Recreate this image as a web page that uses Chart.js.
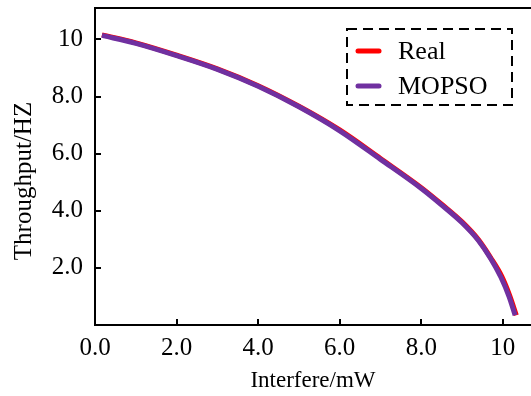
<!DOCTYPE html>
<html>
<head>
<meta charset="utf-8">
<script src="https://cdn.jsdelivr.net/npm/chart.js@4/dist/chart.umd.min.js"></script>
<style>
  html, body { margin: 0; padding: 0; background: #fff; }
  #wrap { width: 531px; height: 396px; }
</style>
</head>
<body>
<div id="wrap"><canvas id="myChart" width="531" height="396"></canvas></div>
<script>
// values
const realX  = [0.17, 1.0, 2.0, 3.0, 4.0, 5.0, 6.0, 7.0, 8.0, 8.5, 9.0, 9.4, 9.7, 9.97, 10.17, 10.33]
const realY  = [10.16, 9.88, 9.45, 8.97, 8.38, 7.66, 6.83, 5.83, 4.81, 4.23, 3.61, 2.99, 2.36, 1.71, 1.02, 0.34]
const mopsoX = [0.17, 1.0, 2.0, 3.0, 4.0, 5.0, 6.0, 7.0, 8.0, 8.5, 9.0, 9.4, 9.7, 9.95, 10.15, 10.3]
const mopsoY = [10.14, 9.86, 9.43, 8.95, 8.36, 7.64, 6.8, 5.8, 4.78, 4.2, 3.58, 2.96, 2.33, 1.68, 1.0, 0.34]
const xTicks = [0, 2, 4, 6, 8, 10]
const yTicks = [2, 4, 6, 8, 10]
const xTitle = 'Interfere/mW'
const yTitle = 'Throughput/HZ'

const font = 'Liberation Serif'

const toPoints = (xs, ys) => xs.map((x, i) => ({ x: x, y: ys[i] }))
const tickLabel = (v) => v === 10 ? '10' : v.toFixed(1)

// axes frame with inward ticks, plus the y title
const framePlugin = {
  id: 'frame',
  afterDraw(chart) {
    const c = chart.ctx
    const a = chart.chartArea
    const xs = chart.scales.x
    const ys = chart.scales.y
    c.save()
    c.strokeStyle = '#000'
    c.lineWidth = 2
    c.beginPath()
    c.moveTo(a.right + 2, a.top)
    c.lineTo(a.left, a.top)
    c.lineTo(a.left, a.bottom)
    c.lineTo(a.right + 2, a.bottom)
    c.stroke()
    c.beginPath()
    xTicks.forEach(v => {
      const px = Math.round(xs.getPixelForValue(v))
      c.moveTo(px, a.bottom)
      c.lineTo(px, a.bottom - 6)
    })
    yTicks.forEach(v => {
      const py = Math.round(ys.getPixelForValue(v))
      c.moveTo(a.left, py)
      c.lineTo(a.left + 6, py)
    })
    c.stroke()

    c.translate(24, 181)
    c.rotate(-Math.PI / 2)
    c.fillStyle = '#000'
    c.font = `25px "${font}"`
    c.textAlign = 'center'
    c.textBaseline = 'middle'
    c.fillText(yTitle, 0, 0)
    c.restore()
  }
}

// dashed legend box inside the plot
const legendPlugin = {
  id: 'boxLegend',
  afterDraw(chart) {
    const c = chart.ctx
    const left = 347, top = 29, right = 512, bottom = 105
    c.save()
    c.strokeStyle = '#000'
    c.lineWidth = 2
    c.setLineDash([10, 6])
    c.strokeRect(left, top, right - left, bottom - top)
    c.setLineDash([])
    c.font = `26px "${font}"`
    c.textBaseline = 'middle'
    c.fillStyle = '#000'
    chart.data.datasets.forEach((ds, i) => {
      const y = 51 + i * 35
      c.strokeStyle = ds.borderColor
      c.lineWidth = 5
      c.lineCap = 'round'
      c.beginPath()
      c.moveTo(358, y)
      c.lineTo(379, y)
      c.stroke()
      c.fillText(ds.label, 398, y + 1)
    })
    c.restore()
  }
}

new Chart(document.getElementById('myChart'), {
  type: 'line',
  data: {
    datasets: [
      {
        label: 'Real',
        data: toPoints(realX, realY),
        borderColor: '#ff0000',
        borderWidth: 5,
        pointRadius: 0,
        cubicInterpolationMode: 'monotone',
        order: 1
      },
      {
        label: 'MOPSO',
        data: toPoints(mopsoX, mopsoY),
        borderColor: '#7030a0',
        borderWidth: 5,
        pointRadius: 0,
        cubicInterpolationMode: 'monotone',
        order: 0
      }
    ]
  },
  options: {
    responsive: false,
    animation: false,
    layout: { padding: { top: 8, right: 0, left: 0, bottom: 0 } },
    plugins: { legend: { display: false }, tooltip: { enabled: false } },
    scales: {
      x: {
        type: 'linear',
        min: 0,
        max: 10.69,
        afterBuildTicks: (s) => { s.ticks = xTicks.map(v => ({ value: v })) },
        afterFit: (s) => { s.height = 71; s.paddingLeft = 0; s.paddingRight = 0 },
        grid: { display: false, drawTicks: false },
        border: { display: false },
        ticks: {
          padding: 8,
          color: '#000',
          font: { family: font, size: 25 },
          maxRotation: 0,
          callback: tickLabel
        },
        title: {
          display: true,
          text: xTitle,
          color: '#000',
          font: { family: font, size: 23 },
          padding: { top: 0, bottom: 1 }
        }
      },
      y: {
        type: 'linear',
        min: 0,
        max: 11.1,
        afterBuildTicks: (s) => { s.ticks = yTicks.map(v => ({ value: v })) },
        afterFit: (s) => { s.width = 95; s.paddingTop = 0; s.paddingBottom = 0 },
        grid: { display: false, drawTicks: false },
        border: { display: false },
        ticks: {
          padding: 12,
          color: '#000',
          font: { family: font, size: 25 },
          callback: tickLabel
        },
        title: { display: false }
      }
    }
  },
  plugins: [framePlugin, legendPlugin]
})
</script>
</body>
</html>
